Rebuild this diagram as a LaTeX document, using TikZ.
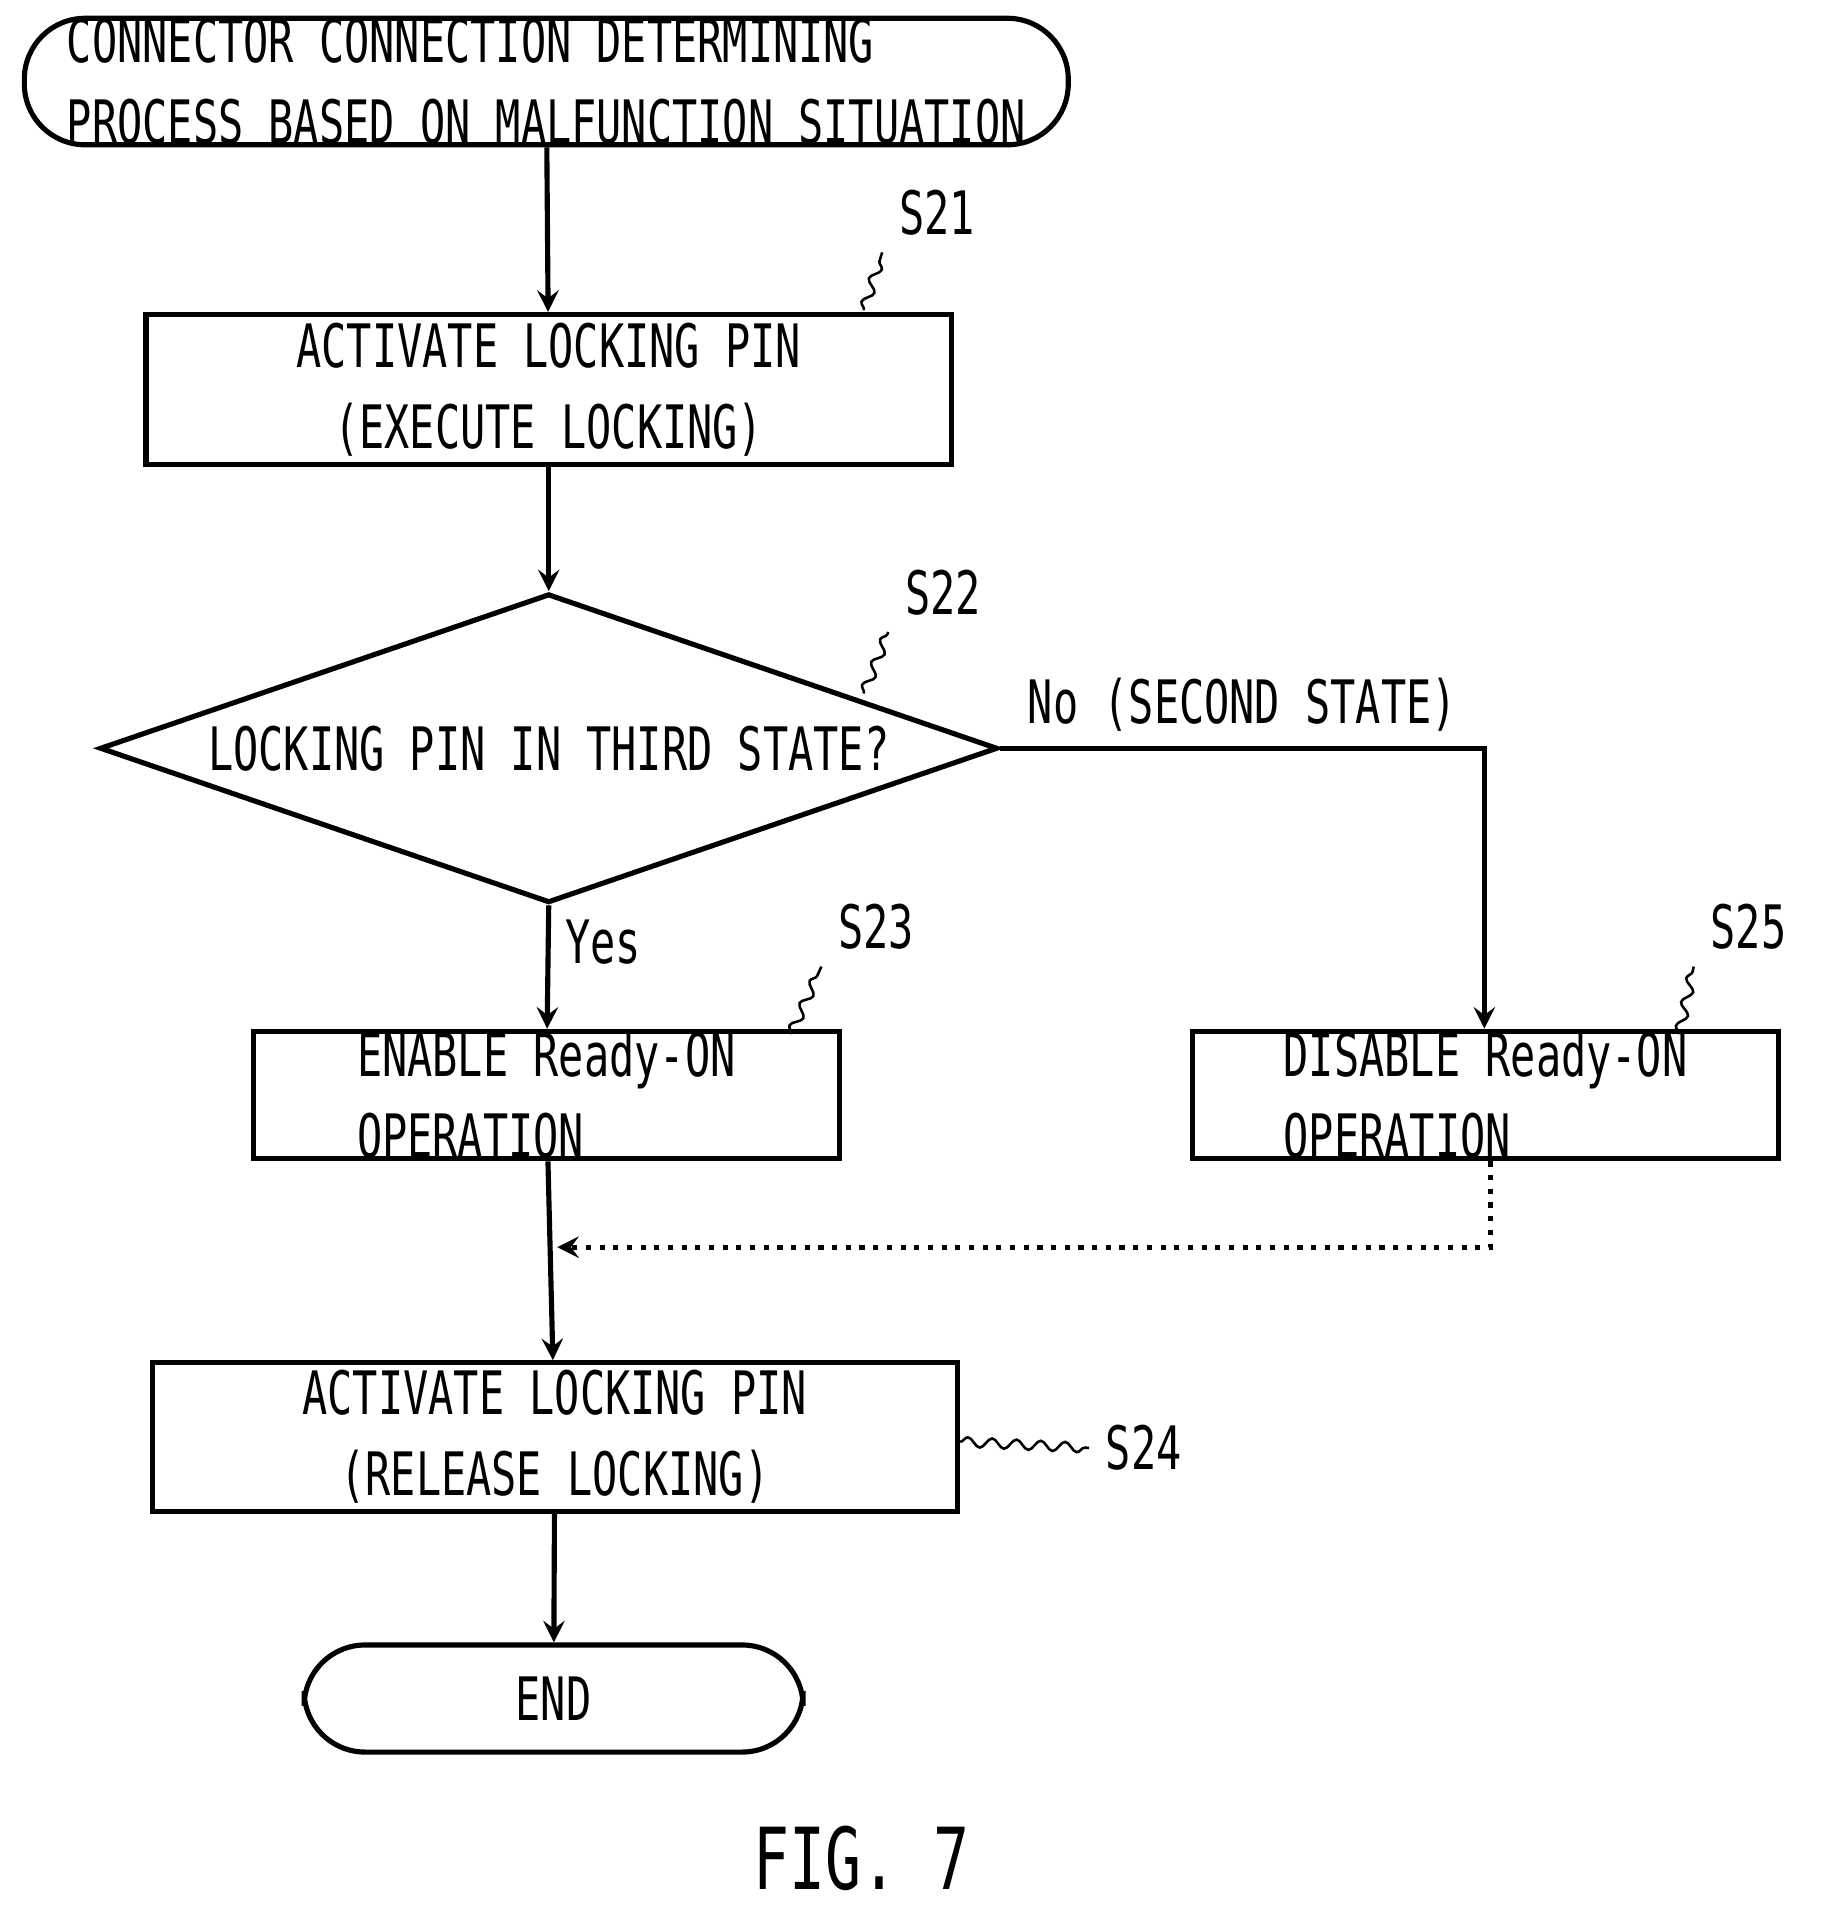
\documentclass[tikz,border=0pt]{standalone}
\usepackage{fontspec}
\setmainfont[FakeStretch=0.7]{DejaVu Sans Mono}
\usetikzlibrary{shapes.geometric}
\usetikzlibrary{decorations.pathmorphing}
\usetikzlibrary{positioning}
\tikzstyle{step_box}=[draw=black, rectangle, line width=1.2pt, inner sep=0pt, align=center, font=\fontsize{14}{19}\selectfont]
\tikzstyle{step_term}=[step_box, rounded corners=0.5cm]
\tikzstyle{step_tag}=[font=\fontsize{14}{17}\selectfont]
\tikzstyle{step_wave}=[decorate, decoration={snake, amplitude=0.4mm, segment length=2mm}, line width=0.6pt]
\begin{document}
\begin{tikzpicture}[>=stealth, line width=1.2pt]
              \useasboundingbox (0,0) rectangle (15,-15.69);
              \node[step_term, minimum width=8.58cm, minimum height=0.99cm, align=left] (start) at (4.49,-0.67){CONNECTOR CONNECTION DETERMINING\\PROCESS BASED ON MALFUNCTION SITUATION};
              \node[step_box, minimum width=6.62cm, minimum height=1.23cm] (s21) at (4.51,-3.20){ACTIVATE LOCKING PIN\\(EXECUTE LOCKING)};
              \node[step_box, diamond, aspect=2.9, minimum width=7.38cm, minimum height=2.54cm] (s22) at (4.51,-6.15){LOCKING PIN IN THIRD STATE?};
              \node[step_box, minimum width=4.82cm, minimum height=0.96cm, align=left] (s23) at (4.49,-9.00){ENABLE Ready-ON\\OPERATION\phantom{ABCDEF}};
              \node[step_box, minimum width=4.82cm, minimum height=0.96cm, align=left] (s25) at (12.21,-9.00){DISABLE Ready-ON\\OPERATION\phantom{ABCDEFG}};
              \node[step_box, minimum width=6.62cm, minimum height=1.22cm] (s24) at (4.56,-11.81){ACTIVATE LOCKING PIN\\(RELEASE LOCKING)};
              \node[step_term, minimum width=4.10cm, minimum height=0.88cm] (end) at (4.55,-13.96){END};
              \coordinate (nocorner) at (12.20,-6.15);
              \coordinate (dotcorner) at (12.25,-10.25);
              \coordinate (dotend) at (4.58,-10.25);
              \draw[->](start) -- (s21);
              \draw[->](s21) -- (s22.north);
              \draw[->](s22.south) -- node[right, step_tag, pos=0.3]{Yes} (s23);
              \draw[->](s22.east) -- node[above, step_tag, pos=0.5]{No (SECOND STATE)} (nocorner) -- (s25.north -| nocorner);
              \draw[->](s23) -- (s24);
              \draw[->](s24) -- (end);
              \draw[->, dotted](s25.south -| dotcorner) -- (dotcorner) -- (dotend);
              \node[step_tag] (t21) at (7.70,-1.75){S21};
              \node[step_tag] (t22) at (7.75,-4.87){S22};
              \node[step_tag] (t23) at (7.20,-7.62){S23};
              \node[step_tag] (t25) at (14.37,-7.62){S25};
              \node[step_tag] (t24) at (9.40,-11.90){S24};
              \draw[step_wave](7.10,-2.55) -- (t21.south west);
              \draw[step_wave](7.10,-5.70) -- (t22.south west);
              \draw[step_wave](6.50,-8.50) -- (t23.south west);
              \draw[step_wave](13.80,-8.50) -- (t25.south west);
              \draw[step_wave](s24.east |- 0,-11.85) -- (t24.west);
              \node[font=\fontsize{20}{24}\selectfont] (fig) at (7.08,-15.27){FIG.~7};
            \end{tikzpicture}
\end{document}
